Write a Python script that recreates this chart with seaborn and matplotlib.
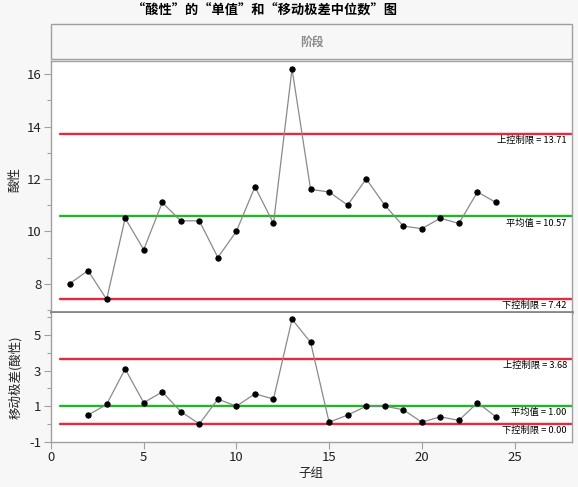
import matplotlib
matplotlib.use("Agg")
import matplotlib.pyplot as plt
import matplotlib.transforms as mtransforms
from matplotlib.ticker import MultipleLocator, FixedLocator
from matplotlib.patches import Rectangle
import seaborn as sns
import pandas as pd

# ── data ──
subgroup = list(range(1, 25))
acidity = [8.0, 8.5, 7.4, 10.5, 9.3, 11.1, 10.4, 10.4, 9.0, 10.0, 11.7, 10.3,
           16.2, 11.6, 11.5, 11.0, 12.0, 11.0, 10.2, 10.1, 10.5, 10.3, 11.5, 11.1]
mr_subgroup = list(range(2, 25))
moving_range = [0.5, 1.1, 3.1, 1.2, 1.8, 0.7, 0.0, 1.4, 1.0, 1.7, 1.4, 5.9,
                4.6, 0.1, 0.5, 1.0, 1.0, 0.8, 0.1, 0.4, 0.2, 1.2, 0.4]

ind_limits = [("上控制限", 13.71, "#e8283f"), ("平均值", 10.57, "#22b52a"), ("下控制限", 7.42, "#e8283f")]
mr_limits = [("上控制限", 3.68, "#e8283f"), ("平均值", 1.00, "#22b52a"), ("下控制限", 0.00, "#e8283f")]

TITLE = "“酸性”的“单值”和“移动极差中位数”图"
PHASE = "阶段"

sns.set_theme(style="white")
plt.rcParams["font.family"] = ["Noto Sans CJK SC", "DejaVu Sans"]
plt.rcParams["axes.unicode_minus"] = False

BG = "#f7f7f7"
SPINE = "#a0a0a0"
TXT = "#222222"

fig = plt.figure(figsize=(5.78, 4.87), dpi=100, facecolor=BG)

W, H = 578, 487
def box(x0, y0, x1, y1):
    return [x0 / W, 1 - y1 / H, (x1 - x0) / W, (y1 - y0) / H]

ax1 = fig.add_axes(box(51, 61, 572, 312))
ax2 = fig.add_axes(box(51, 313, 572, 441.7))

df1 = pd.DataFrame({"x": subgroup, "y": acidity})
df2 = pd.DataFrame({"x": mr_subgroup, "y": moving_range})


def draw_panel(ax, df, limits, ylim):
    sns.lineplot(data=df, x="x", y="y", ax=ax, color="#8a8a8a", linewidth=0.9,
                 marker="o", markersize=3.8, markerfacecolor="black",
                 markeredgecolor="black", zorder=3)
    ax.set_xlim(0, 28.1)
    ax.set_ylim(*ylim)
    trans = mtransforms.blended_transform_factory(ax.transAxes, ax.transData)
    for name, val, col in limits:
        ax.plot([0.5, 28.1], [val, val], color=col, linewidth=1.7, zorder=2)
        ax.annotate(f"{name} = {val:.2f}", xy=(0.99, val), xycoords=trans,
                    xytext=(0, -1.5), textcoords="offset points",
                    ha="right", va="top", fontsize=6.7, color="black", zorder=4)
    ax.tick_params(axis="y", which="major", left=True, length=5, width=0.8,
                   color=SPINE, labelsize=9.5, labelcolor=TXT, pad=2)
    ax.tick_params(axis="y", which="minor", left=True, length=3, width=0.8, color=SPINE)
    ax.set_facecolor("white")
    for s in ax.spines.values():
        s.set_color(SPINE)
        s.set_linewidth(1.0)
    ax.set_xlabel("")
    ax.set_ylabel("")


draw_panel(ax1, df1, ind_limits, (6.92, 16.5))
ax1.yaxis.set_major_locator(MultipleLocator(2))
ax1.yaxis.set_minor_locator(MultipleLocator(1))

draw_panel(ax2, df2, mr_limits, (-1, 6.25))
ax2.set_yticks([-1, 1, 3, 5])
ax2.yaxis.set_minor_locator(FixedLocator([0, 2, 4, 6]))

ax1.tick_params(axis="x", bottom=False, labelbottom=False)
ax1.spines["bottom"].set_color("#888888")
ax1.spines["bottom"].set_linewidth(2.0)
ax2.spines["top"].set_visible(False)

ax2.set_xticks([0, 5, 10, 15, 20, 25])
ax2.tick_params(axis="x", which="major", bottom=True, length=5, width=0.8,
                color=SPINE, labelsize=9.5, labelcolor=TXT, pad=2)

# header box
hdr = Rectangle((51 / W, 1 - 59 / H), 521 / W, 35 / H, transform=fig.transFigure,
                facecolor=BG, edgecolor="#a0a0a0", linewidth=1.0)
fig.patches.append(hdr)
fig.text(311.5 / W, 1 - 42 / H, PHASE, ha="center", va="center", fontsize=8.5,
         color="#8c8c8c", fontweight="bold")

fig.text(264 / W, 1 - 11 / H, TITLE, ha="center", va="center", fontsize=9.5,
         fontweight="bold", color="black")

fig.text(15 / W, 1 - 180 / H, "酸性", rotation=90, ha="center", va="center",
         fontsize=9, color=TXT)
fig.text(15 / W, 1 - 377 / H, "移动极差(酸性)", rotation=90, ha="center", va="center",
         fontsize=9, color=TXT)
fig.text(311 / W, 1 - 473 / H, "子组", ha="center", va="center", fontsize=9, color=TXT)

fig.savefig("out.png", dpi=100, facecolor=BG)
